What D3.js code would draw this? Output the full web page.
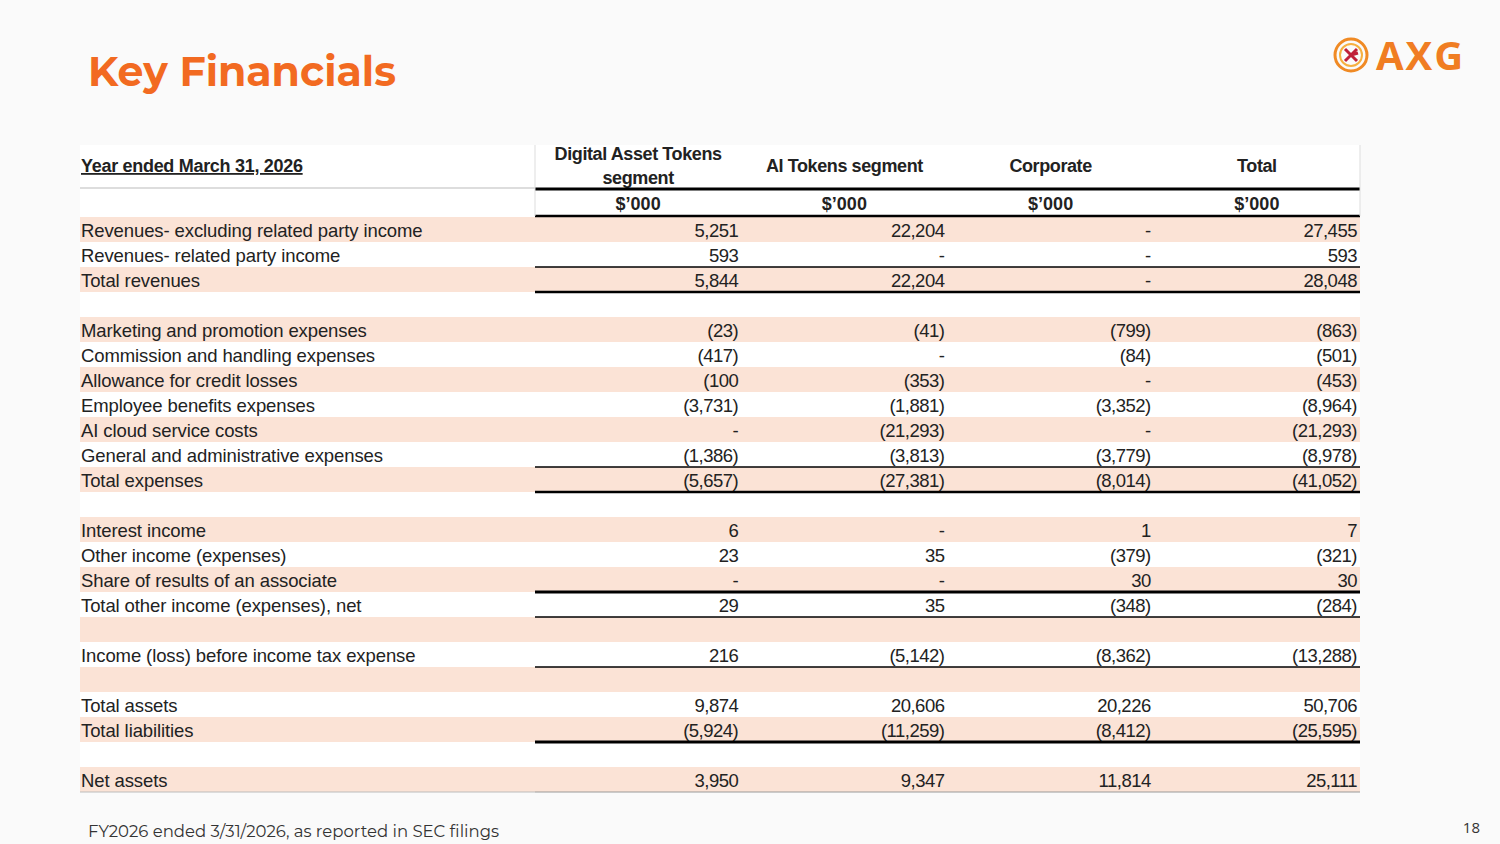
<!DOCTYPE html><html><head><meta charset="utf-8"><script src="https://cdn.jsdelivr.net/npm/d3@7"></script>
<style>body{margin:0;background:#fafafa}</style></head><body><script>
const columns=["Digital Asset Tokens segment","AI Tokens segment","Corporate","Total"];
const labels=["Revenues- excluding related party income","Revenues- related party income","Total revenues","",
"Marketing and promotion expenses","Commission and handling expenses","Allowance for credit losses","Employee benefits expenses","AI cloud service costs","General and administrative expenses","Total expenses","",
"Interest income","Other income (expenses)","Share of results of an associate","Total other income (expenses), net","",
"Income (loss) before income tax expense","","Total assets","Total liabilities","","Net assets"];
const datSeg=["5,251","593","5,844","","(23)","(417)","(100","(3,731)","-","(1,386)","(5,657)","","6","23","-","29","","216","","9,874","(5,924)","","3,950"];
const aiSeg=["22,204","-","22,204","","(41)","-","(353)","(1,881)","(21,293)","(3,813)","(27,381)","","-","35","-","35","","(5,142)","","20,606","(11,259)","","9,347"];
const corporate=["-","-","-","","(799)","(84)","-","(3,352)","-","(3,779)","(8,014)","","1","(379)","30","(348)","","(8,362)","","20,226","(8,412)","","11,814"];
const total=["27,455","593","28,048","","(863)","(501)","(453)","(8,964)","(21,293)","(8,978)","(41,052)","","7","(321)","30","(284)","","(13,288)","","50,706","(25,595)","","25,111"];
const rules=[[1,1.5],[2,2.5],[9,1.5],[10,2.5],[14,3],[15,1.5],[17,1.5],[20,3],[22,1]];

const W=1500,H=844;
const svg=d3.select("body").append("svg").attr("width",W).attr("height",H).style("font-family","'Liberation Sans',Arial,sans-serif");
svg.append("rect").attr("width",W).attr("height",H).attr("fill","#fafafa");
svg.append("text").attr("x",88).attr("y",86).attr("fill","#f26a21").attr("font-size",41).attr("font-weight",700)
 .attr("font-family","Montserrat,'Open Sans',sans-serif").text("Key Financials");
const lg=svg.append("g").attr("transform","translate(1351,55)");
lg.append("circle").attr("r",16).attr("fill","none").attr("stroke","#f08a24").attr("stroke-width",3);
lg.append("circle").attr("r",11).attr("fill","none").attr("stroke","#f6b040").attr("stroke-width",2);
lg.append("path").attr("d","M-6,-6 L6,6 M6,-6 L-6,6 M-6,6 L0,0 L7,-2").attr("stroke","#c0203a").attr("stroke-width",3).attr("fill","none");
svg.append("text").attr("x",1376).attr("y",70).attr("fill","#f07d22").attr("font-size",40).attr("font-weight",700)
 .attr("font-family","'Open Sans',sans-serif").attr("letter-spacing",2).text("AXG");

const x0=80,x1=535,x2=1360;
const y=d3.scaleBand().domain(d3.range(labels.length)).range([217,792]);
svg.append("rect").attr("x",x0).attr("y",145).attr("width",x2-x0).attr("height",792-145).attr("fill","#fff");
const colX=d3.scaleBand().domain(columns).range([x1,x2]);
const rows=svg.selectAll("g.row").data(labels).join("g").attr("transform",(d,i)=>`translate(0,${y(i)})`);
rows.filter((d,i)=>i%2===0).append("rect").attr("x",x0).attr("width",x2-x0).attr("height",y.bandwidth()).attr("fill","#fbe3d6");
rows.append("text").attr("x",x0+1).attr("y",y.bandwidth()/2+7).attr("font-size",18.5).attr("letter-spacing",-0.1).attr("fill","#222").text(d=>d);
const vals=[datSeg,aiSeg,corporate,total];
columns.forEach((c,ci)=>{
 rows.append("text").attr("x",colX(c)+colX.bandwidth()-3).attr("y",y.bandwidth()/2+7).attr("text-anchor","end")
  .attr("font-size",18.5).attr("letter-spacing",-0.5).attr("fill","#222").text((d,i)=>vals[ci][i]);
 svg.append("text").attr("x",colX(c)+colX.bandwidth()/2).attr("y",210).attr("text-anchor","middle").attr("font-size",18).attr("font-weight",700).attr("fill","#222").text("$’000");
});
const hd=svg.append("g").attr("font-size",18).attr("font-weight",700).attr("fill","#222").attr("text-anchor","middle").attr("letter-spacing",-0.4);
hd.append("text").attr("x",colX(columns[0])+colX.bandwidth()/2).attr("y",160).text("Digital Asset Tokens");
hd.append("text").attr("x",colX(columns[0])+colX.bandwidth()/2).attr("y",184).text("segment");
columns.slice(1).forEach(c=>hd.append("text").attr("x",colX(c)+colX.bandwidth()/2).attr("y",172).text(c));
svg.append("text").attr("x",x0+1).attr("y",172).attr("font-size",18).attr("font-weight",700).attr("letter-spacing",-0.3).attr("text-decoration","underline").attr("fill","#222").text("Year ended March 31, 2026");
svg.append("line").attr("x1",x0).attr("x2",x1).attr("y1",188).attr("y2",188).attr("stroke","#bbb");
svg.append("line").attr("x1",x1).attr("x2",x2).attr("y1",189).attr("y2",189).attr("stroke","#000").attr("stroke-width",3);
svg.append("line").attr("x1",x1).attr("x2",x2).attr("y1",216).attr("y2",216).attr("stroke","#000").attr("stroke-width",2.5);
svg.append("line").attr("x1",x1).attr("x2",x1).attr("y1",145).attr("y2",216).attr("stroke","#ddd");
svg.append("line").attr("x1",x2).attr("x2",x2).attr("y1",145).attr("y2",216).attr("stroke","#ddd");
rules.forEach(([r,w])=>svg.append("line").attr("x1",x1).attr("x2",x2).attr("y1",y(r)+y.bandwidth()).attr("y2",y(r)+y.bandwidth())
 .attr("stroke",r===22?"#999":"#000").attr("stroke-width",w));
svg.append("line").attr("x1",x0).attr("x2",x1).attr("y1",792).attr("y2",792).attr("stroke","#bbb");
svg.append("text").attr("x",88).attr("y",837).attr("font-size",16.5).attr("fill","#333").attr("font-family","Montserrat,'Open Sans',sans-serif").text("FY2026 ended 3/31/2026, as reported in SEC filings");
svg.append("text").attr("x",1480).attr("y",833).attr("text-anchor","end").attr("font-size",15).attr("fill","#333").attr("font-family","'Open Sans',sans-serif").text("18");
</script></body></html>
